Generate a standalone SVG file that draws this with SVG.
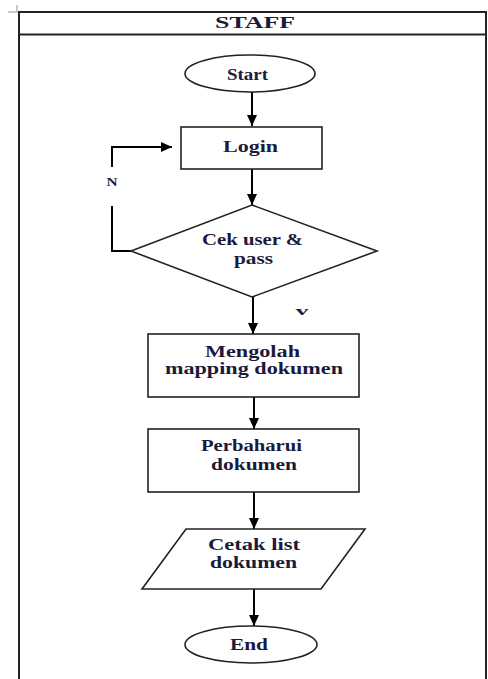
<svg xmlns="http://www.w3.org/2000/svg" width="488" height="679" viewBox="0 0 488 679">
<style>
.t{font-family:"Liberation Serif","Times New Roman",serif;font-size:16px;fill:#1a1a3a;text-anchor:middle;font-weight:bold;}
.s{fill:#fff;stroke:#222;stroke-width:1.6;}
.c{fill:none;stroke:#000;stroke-width:2;}
</style>
<defs>
<marker id="ah" markerUnits="userSpaceOnUse" markerWidth="12" markerHeight="10" refX="11" refY="5" orient="auto">
<path d="M0,0 L11,5 L0,10 z" fill="#000"/>
</marker>
</defs>
<g id="swimlane">
<path d="M8,12 H17 V5" fill="none" stroke="#bbb" stroke-width="1.5"/>
<path d="M19,679 V12 H486 V679" fill="none" stroke="#222" stroke-width="2"/>
<line x1="19" y1="34.5" x2="486" y2="34.5" stroke="#222" stroke-width="2"/>
<text class="t" x="255" y="28" textLength="80" lengthAdjust="spacingAndGlyphs">STAFF</text>
</g>
<g id="connectors">
<line class="c" x1="252" y1="92" x2="252" y2="126" marker-end="url(#ah)"/>
<line class="c" x1="252" y1="169" x2="252" y2="205" marker-end="url(#ah)"/>
<line class="c" x1="253" y1="297" x2="253" y2="334" marker-end="url(#ah)"/>
<line class="c" x1="254" y1="397" x2="254" y2="429" marker-end="url(#ah)"/>
<line class="c" x1="254" y1="492" x2="254" y2="529" marker-end="url(#ah)"/>
<line class="c" x1="254" y1="589" x2="254" y2="626" marker-end="url(#ah)"/>
<polyline class="c" points="131,251 112,251 112,206"/>
<polyline class="c" points="112,167 112,147 172,147" marker-end="url(#ah)"/>
<text class="t" x="112" y="186" style="font-size:12px" textLength="11" lengthAdjust="spacingAndGlyphs">N</text>
<text class="t" x="302" y="315" style="font-size:13px" textLength="13" lengthAdjust="spacingAndGlyphs">v</text>
</g>
<g id="start">
<ellipse class="s" cx="250" cy="73.5" rx="65" ry="18.5"/>
<text class="t" x="247.5" y="80" textLength="41" lengthAdjust="spacingAndGlyphs">Start</text>
</g>
<g id="login">
<rect class="s" x="181" y="127" width="141" height="42"/>
<text class="t" x="250.5" y="152" textLength="55" lengthAdjust="spacingAndGlyphs">Login</text>
</g>
<g id="cek">
<polygon class="s" points="252,205 377,251 252,297 131,251"/>
<text class="t" x="252.5" y="245" textLength="101" lengthAdjust="spacingAndGlyphs">Cek user &amp;</text>
<text class="t" x="253.5" y="264" textLength="39" lengthAdjust="spacingAndGlyphs">pass</text>
</g>
<g id="mengolah">
<rect class="s" x="148" y="334" width="211" height="63"/>
<text class="t" x="252.5" y="357" textLength="95" lengthAdjust="spacingAndGlyphs">Mengolah</text>
<text class="t" x="254" y="374" textLength="178" lengthAdjust="spacingAndGlyphs">mapping dokumen</text>
</g>
<g id="perbaharui">
<rect class="s" x="148" y="429" width="211" height="63"/>
<text class="t" x="251.5" y="451" textLength="101" lengthAdjust="spacingAndGlyphs">Perbaharui</text>
<text class="t" x="254" y="470" textLength="86" lengthAdjust="spacingAndGlyphs">dokumen</text>
</g>
<g id="cetak">
<polygon class="s" points="186,529 365,529 321,589 142,589"/>
<text class="t" x="254" y="550" textLength="92" lengthAdjust="spacingAndGlyphs">Cetak list</text>
<text class="t" x="253.5" y="568" textLength="87" lengthAdjust="spacingAndGlyphs">dokumen</text>
</g>
<g id="end">
<ellipse class="s" cx="251" cy="644.5" rx="66" ry="18.5"/>
<text class="t" x="249" y="650" textLength="38" lengthAdjust="spacingAndGlyphs">End</text>
</g>
</svg>
